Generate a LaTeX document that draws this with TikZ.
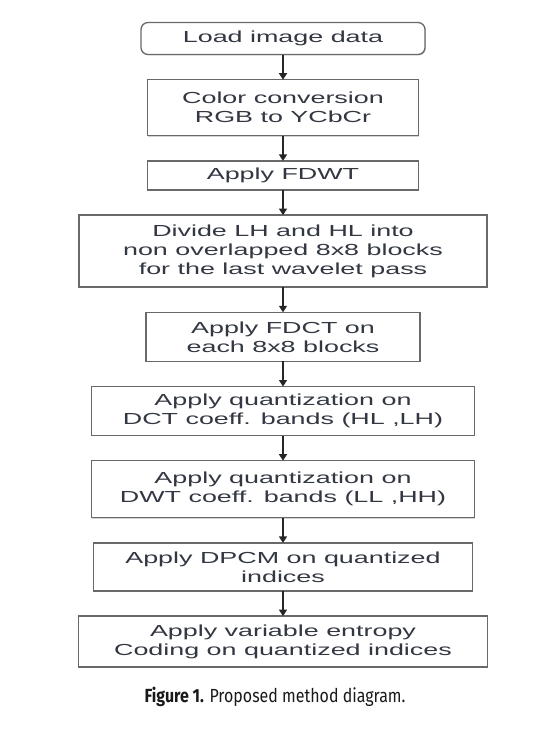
\documentclass[tikz,border=0pt]{standalone}
\usepackage{fontspec}
\usepackage{tikz}
\usetikzlibrary{arrows.meta,positioning,shadows}
\newfontfamily\boxfont[FakeStretch=1.68]{Liberation Sans}
\newfontfamily\capfont[FakeStretch=0.84]{Fira Sans}
\definecolor{boxtext}{RGB}{50,55,66}
\definecolor{boxline}{RGB}{105,105,105}

\begin{document}
\begin{tikzpicture}[node distance=25.2pt, every node/.style={font=\boxfont\fontsize{16}{19}\selectfont, text=boxtext},
  block/.style={draw=boxline, fill=white, line width=1.3pt, outer sep=0pt, align=center, inner sep=2pt,
    drop shadow={shadow xshift=0.9pt, shadow yshift=-0.9pt, opacity=0.35}},
  line/.style={-{Triangle[length=6.5pt,width=8pt]}, line width=1.4pt, draw=black!85}]
  \useasboundingbox (0,0) rectangle (543pt,-747pt);
  \node[block, rounded corners=7pt, minimum width=284pt, minimum height=32pt] (load) at (283pt,-38.5pt) {Load image data};
  \node[block, below=of load, minimum width=271pt, minimum height=56pt] (conv) {Color conversion\\RGB to YCbCr};
  \node[block, below=of conv, minimum width=271pt, minimum height=29pt] (fdwt) {Apply FDWT};
  \node[block, below=of fdwt, minimum width=408pt, minimum height=72pt] (divide) {Divide LH and HL into\\non overlapped 8x8 blocks\\for the last wavelet pass};
  \node[block, below=of divide, minimum width=274pt, minimum height=49pt] (fdct) {Apply FDCT on\\each 8x8 blocks};
  \node[block, below=of fdct, minimum width=383pt, minimum height=49pt] (qdct) {Apply quantization on\\DCT coeff. bands (HL ,LH)};
  \node[block, below=of qdct, minimum width=383pt, minimum height=57pt] (qdwt) {Apply quantization on\\DWT coeff. bands (LL ,HH)};
  \node[block, below=of qdwt, minimum width=379pt, minimum height=48pt] (dpcm) {Apply DPCM on quantized\\indices};
  \node[block, below=of dpcm, minimum width=409pt, minimum height=51pt] (entropy) {Apply variable entropy\\Coding on quantized indices};
  \node[font=\capfont\fontsize{19}{22}\selectfont, text=black!90] (caption) at (275pt,-697pt) {\textbf{Figure 1.} Proposed method diagram.};
  \draw[line] (load)--(conv);
  \draw[line] (conv)--(fdwt);
  \draw[line] (fdwt)--(divide);
  \draw[line] (divide)--(fdct);
  \draw[line] (fdct)--(qdct);
  \draw[line] (qdct)--(qdwt);
  \draw[line] (qdwt)--(dpcm);
  \draw[line] (dpcm)--(entropy);
\end{tikzpicture}
\end{document}
